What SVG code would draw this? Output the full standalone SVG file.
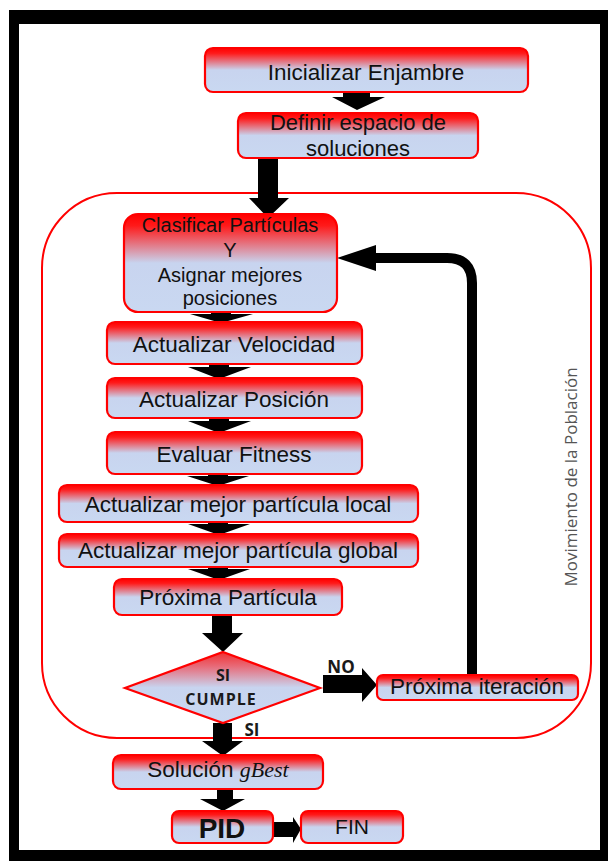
<svg xmlns="http://www.w3.org/2000/svg" width="608" height="861" viewBox="0 0 608 861">
<defs>
<linearGradient id="g" x1="0" y1="0" x2="0" y2="1">
<stop offset="0" stop-color="#ff0000"/>
<stop offset="0.12" stop-color="#ff1a1a"/>
<stop offset="0.5" stop-color="#c8d4ef"/>
<stop offset="1" stop-color="#c9d8f1"/>
</linearGradient>
<linearGradient id="gd" x1="0" y1="0" x2="0" y2="1">
<stop offset="0" stop-color="#f03030"/>
<stop offset="0.2" stop-color="#e86a78"/>
<stop offset="0.5" stop-color="#c8d4ef"/>
<stop offset="1" stop-color="#c9d8f1"/>
</linearGradient>
<style>
.box{fill:url(#g);stroke:#ff0000;stroke-width:2.2}
.t{font-family:"Liberation Sans",Arial,sans-serif;fill:#111;text-anchor:middle}
.b{font-family:"Open Sans","Liberation Sans",sans-serif;font-weight:bold;fill:#1a1a1a;text-anchor:middle}
.arr{fill:#000}
</style>
</defs>
<rect x="0" y="0" width="608" height="861" fill="#fff"/>
<rect x="9" y="10" width="599" height="851" fill="#000"/>
<rect x="19" y="24" width="581" height="826" fill="#fff"/>

<g id="container">
<rect x="42" y="193" width="549" height="545" rx="75" ry="75" fill="none" stroke="#ff0000" stroke-width="2"/>
<text x="0" y="0" transform="translate(577,477) rotate(-90)" font-family="'Open Sans','Liberation Sans',sans-serif" font-size="17" fill="#555" text-anchor="middle">Movimiento de la Población</text>
</g>

<g id="connectors">
<polygon class="arr" points="343,92 370,92 370,97 385,97 357,110 332,97 343,97"/>
<polygon class="arr" points="258,158 278,158 278,198 289,198 268,218 249,198 258,198"/>
<polygon class="arr" points="211,312 231,312 231,314 253,314 221,323 190,314 211,314"/>
<polygon class="arr" points="209,364 229,364 229,367 251,367 219,379 188,367 209,367"/>
<polygon class="arr" points="209,418 229,418 229,421 251,421 219,433 188,421 209,421"/>
<polygon class="arr" points="208,474 228,474 228,476 249,476 218,486 187,476 208,476"/>
<polygon class="arr" points="208,522 228,522 228,524 250,524 219,535 188,524 208,524"/>
<polygon class="arr" points="208,567 228,567 228,569 250,569 219,580 188,569 208,569"/>
<polygon class="arr" points="212,615 232,615 232,633 243,633 223,652 202,633 212,633"/>
<polygon class="arr" points="323,675 362,675 362,668 377,685 362,702 362,693 323,693"/>
<path d="M472,676 V283 Q472,258 447,258 H372" fill="none" stroke="#000" stroke-width="10"/>
<polygon class="arr" points="337,258 376,245 376,271"/>
<polygon class="arr" points="213,723 232,723 232,741 243,741 223,756 202,741 213,741"/>
<polygon class="arr" points="217,789 233,789 233,799 245,799 223,811 200,799 217,799"/>
<polygon class="arr" points="273,822 293,822 293,817 301,829 293,843 293,837 273,837"/>
</g>

<g id="n1"><rect class="box" x="205" y="48" width="323" height="44" rx="8"/><text class="t" x="366" y="80" style="font-size:22.5px">Inicializar Enjambre</text></g>
<g id="n2"><rect class="box" x="238" y="113" width="240" height="45" rx="8"/><text class="t" x="358" y="130" style="font-size:22px">Definir espacio de</text><text class="t" x="358" y="156" style="font-size:22px">soluciones</text></g>
<g id="n3"><rect class="box" x="124" y="214" width="213" height="98" rx="14"/>
<text class="t" x="230" y="232" style="font-size:20px">Clasificar Partículas</text>
<text class="t" x="230" y="257" style="font-size:20px">Y</text>
<text class="t" x="230" y="282" style="font-size:20px">Asignar mejores</text>
<text class="t" x="230" y="305" style="font-size:20px">posiciones</text></g>
<g id="n4"><rect class="box" x="107" y="322" width="255" height="42" rx="8"/><text class="t" x="234" y="352" style="font-size:22.5px">Actualizar Velocidad</text></g>
<g id="n5"><rect class="box" x="107" y="378" width="255" height="40" rx="8"/><text class="t" x="234" y="407" style="font-size:22.5px">Actualizar Posición</text></g>
<g id="n6"><rect class="box" x="107" y="432" width="255" height="42" rx="8"/><text class="t" x="234" y="462" style="font-size:22.5px">Evaluar Fitness</text></g>
<g id="n7"><rect class="box" x="59" y="485" width="359" height="37" rx="8"/><text class="t" x="238" y="512" style="font-size:22.5px">Actualizar mejor partícula local</text></g>
<g id="n8"><rect class="box" x="59" y="534" width="359" height="33" rx="8"/><text class="t" x="238" y="558" style="font-size:22.5px">Actualizar mejor partícula global</text></g>
<g id="n9"><rect class="box" x="114" y="579" width="228" height="36" rx="8"/><text class="t" x="228" y="605" style="font-size:22.5px">Próxima Partícula</text></g>
<g id="n10"><polygon points="223,652 320,688 223,723 125,688" fill="url(#gd)" stroke="#ff0000" stroke-width="2.2"/>
<text class="b" x="223" y="681" style="font-size:16px">SI</text>
<text class="b" x="221" y="705" style="font-size:16px;letter-spacing:1px">CUMPLE</text></g>
<g id="n11"><rect class="box" x="377" y="675" width="201" height="25" rx="6"/><text class="t" x="477" y="694" style="font-size:22.5px">Próxima iteración</text></g>
<g id="n12"><rect class="box" x="113" y="755" width="210" height="34" rx="8"/><text class="t" x="218" y="777" style="font-size:22.5px">Solución <tspan font-family="'Liberation Serif',serif" font-style="italic" font-size="22">gBest</tspan></text></g>
<g id="n13"><rect class="box" x="172" y="811" width="101" height="32" rx="7"/><text class="t" x="222" y="838" style="font-size:28px;font-weight:bold">PID</text></g>
<g id="n14"><rect class="box" x="301" y="811" width="102" height="32" rx="7"/><text class="t" x="352" y="834" style="font-size:21px">FIN</text></g>

<g id="labels">
<text class="b" x="341" y="673" style="font-size:17px">NO</text>
<text class="b" x="252" y="736" style="font-size:17px">SI</text>
</g>
</svg>
